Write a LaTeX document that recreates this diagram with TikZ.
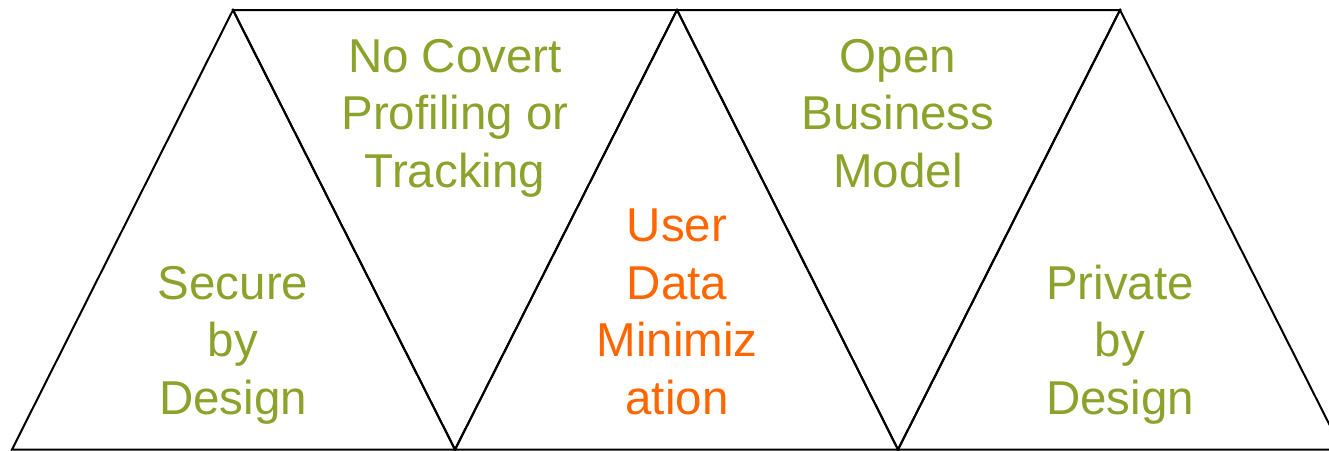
\documentclass[tikz,border=0pt]{standalone}
\usepackage{fontspec}
\setmainfont{Liberation Sans}
\definecolor{olivegreen}{RGB}{139,162,43}
\definecolor{brightorange}{RGB}{255,102,0}
\tikzset{
  edge/.style={draw=black,line width=2pt,line join=miter},
  label/.style={align=center,inner sep=0pt,anchor=base,font=\fontsize{47.5}{57.5}\selectfont},
  greenlabel/.style={label,text=olivegreen},
  orangelabel/.style={label,text=brightorange}
}
\begin{document}
\begin{tikzpicture}[x=1pt,y=-1pt]
\useasboundingbox (0,0) rectangle (1329,450);
\clip (0,0) rectangle (1329,450);
% vertices
\coordinate (b0) at (12,449.5);
\coordinate (t1) at (233,10);
\coordinate (b1) at (455,449.5);
\coordinate (t2) at (677,10);
\coordinate (b2) at (898,449.5);
\coordinate (t3) at (1120,10);
\coordinate (b3) at (1342,449.5);
% triangles
\draw[edge] (b0) -- (t1) -- (b1) -- cycle;
\draw[edge] (t1) -- (t2) -- (b1) -- cycle;
\draw[edge] (b1) -- (t2) -- (b2) -- cycle;
\draw[edge] (t2) -- (t3) -- (b2) -- cycle;
\draw[edge] (b2) -- (t3) -- (b3) -- cycle;
% labels
\node[greenlabel] (secure) at (233,414) {Secure\\by\\Design};
\node[greenlabel] (covert) at (455,187) {No Covert\\Profiling or\\Tracking};
\node[orangelabel] (user) at (677,414) {User\\Data\\Minimiz\\ation};
\node[greenlabel] (open) at (898,187) {Open\\Business\\Model};
\node[greenlabel] (private) at (1120,414) {Private\\by\\Design};
\end{tikzpicture}
\end{document}
